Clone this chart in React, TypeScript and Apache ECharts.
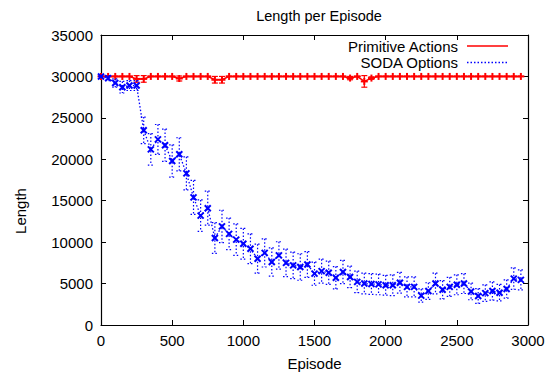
import React, { useEffect, useRef } from "react";
import * as echarts from "echarts";

const episodes = [
  0, 50, 100, 150, 200, 250, 300, 350, 400, 450,
  500, 550, 600, 650, 700, 750, 800, 850, 900, 950,
  1000, 1050, 1100, 1150, 1200, 1250, 1300, 1350, 1400, 1450,
  1500, 1550, 1600, 1650, 1700, 1750, 1800, 1850, 1900, 1950,
  2000, 2050, 2100, 2150, 2200, 2250, 2300, 2350, 2400, 2450,
  2500, 2550, 2600, 2650, 2700, 2750, 2800, 2850, 2900, 2950,
];

const primitiveMean = [
  30000, 30000, 30000, 30000, 30000, 29700, 29700, 30000, 30000, 30000,
  30000, 29750, 30000, 30000, 30000, 30000, 29600, 29600, 30000, 30000,
  30000, 30000, 30000, 30000, 30000, 30000, 30000, 30000, 30000, 30000,
  30000, 30000, 30000, 30000, 30000, 29800, 30000, 29400, 29800, 30000,
  30000, 30000, 30000, 30000, 30000, 30000, 30000, 30000, 30000, 30000,
  30000, 30000, 30000, 30000, 30000, 30000, 30000, 30000, 30000, 30000,
];

const primitiveErr = [
  0, 0, 0, 0, 0, 400, 400, 0, 0, 0,
  0, 300, 0, 0, 0, 0, 400, 400, 0, 0,
  0, 0, 0, 0, 0, 0, 0, 0, 0, 0,
  0, 0, 0, 0, 0, 200, 0, 700, 150, 0,
  0, 0, 0, 0, 0, 0, 0, 0, 0, 0,
  0, 0, 0, 0, 0, 0, 0, 0, 0, 0,
];

const sodaMean = [
  30000, 29800, 29200, 28700, 28900, 28900, 23500, 21200, 22400, 21700,
  19800, 20600, 18300, 15400, 13200, 14100, 10500, 11900, 11000, 10300,
  9800, 9200, 8000, 8700, 7600, 8400, 7500, 7200, 7000, 7300,
  6200, 6500, 6300, 5700, 6400, 5800, 5200, 5000, 4950, 4900,
  4800, 4800, 5100, 4600, 4600, 3550, 4100, 5000, 4250, 4600,
  4850, 5000, 4050, 3500, 3850, 4100, 3900, 4350, 5600, 5450,
];

const sodaErr = [
  0, 300, 500, 700, 600, 600, 1600, 1900, 1800, 1950,
  1950, 2000, 2000, 2050, 1900, 2050, 1850, 1950, 1900, 1900,
  1850, 1800, 1750, 1700, 1700, 1650, 1650, 1600, 1600, 1550,
  1400, 1450, 1400, 1350, 1400, 1300, 1300, 1250, 1250, 1250,
  1200, 1250, 1250, 1200, 1200, 800, 1000, 1250, 1100, 1150,
  1200, 1200, 1000, 900, 1000, 1100, 1000, 1100, 1300, 1200,
];

const seriesNames = ["Primitive Actions", "SODA Options"];
const xMin = 0, xMax = 3000, xStep = 500;
const yMin = 0, yMax = 35000, yStep = 5000;

const FONT = "'Liberation Sans', Arial, Helvetica, sans-serif";
const RED = "#ff0000";
const BLUE = "#0000ff";

function errorSeries(name: string, mean: number[], err: number[], color: string, dotted: boolean, marker: "plus" | "cross") {
  const data = episodes.map((e, i) => [e, mean[i], err[i]]);
  return {
    type: "custom",
    name,
    data,
    encode: { x: 0, y: 1 },
    z: dotted ? 4 : 3,
    renderItem: (_params: any, api: any) => {
      const x = api.value(0);
      const y = api.value(1);
      const e = api.value(2);
      const c = api.coord([x, y]);
      const hi = api.coord([x, y + e]);
      const lo = api.coord([x, y - e]);
      const cap = 3;
      const barStyle: any = { stroke: color, lineWidth: 1.2, fill: null };
      if (dotted) barStyle.lineDash = [1.5, 2];
      const mStyle = { stroke: color, lineWidth: 2, fill: null };
      const children: any[] = [];
      if (e > 0) {
        children.push({ type: "line", shape: { x1: c[0], y1: hi[1], x2: c[0], y2: lo[1] }, style: barStyle });
      }
      children.push({ type: "line", shape: { x1: c[0] - cap, y1: hi[1], x2: c[0] + cap, y2: hi[1] }, style: barStyle });
      children.push({ type: "line", shape: { x1: c[0] - cap, y1: lo[1], x2: c[0] + cap, y2: lo[1] }, style: barStyle });
      if (marker === "plus") {
        const s = 3.5;
        children.push({ type: "line", shape: { x1: c[0] - s, y1: c[1], x2: c[0] + s, y2: c[1] }, style: mStyle });
        children.push({ type: "line", shape: { x1: c[0], y1: c[1] - s, x2: c[0], y2: c[1] + s }, style: mStyle });
      } else {
        const s = 3;
        children.push({ type: "line", shape: { x1: c[0] - s, y1: c[1] - s, x2: c[0] + s, y2: c[1] + s }, style: mStyle });
        children.push({ type: "line", shape: { x1: c[0] - s, y1: c[1] + s, x2: c[0] + s, y2: c[1] - s }, style: mStyle });
      }
      return { type: "group", children };
    },
  };
}

export default function App() {
  const ref = useRef<HTMLDivElement>(null);
  useEffect(() => {
    if (!ref.current) return;
    const chart = echarts.init(ref.current, null, { renderer: "svg" });
    const tickCommon = { show: true, inside: true, length: 5, lineStyle: { color: "#000", width: 1 } };
    const lineCommon = { show: true, onZero: false, lineStyle: { color: "#000", width: 1.2 } };
    const labelCommon = { color: "#000", fontSize: 15, fontFamily: FONT, formatter: (v: number) => String(v) };
    chart.setOption({
      animation: false,
      backgroundColor: "#fff",
      title: {
        text: "Length per Episode",
        left: 314,
        top: 3,
        textAlign: "center",
        textStyle: { fontSize: 14.5, fontWeight: "normal", color: "#000", fontFamily: FONT },
      },
      grid: { left: 101, right: 27, top: 35, bottom: 49, containLabel: false },
      xAxis: [
        {
          type: "value", min: xMin, max: xMax, interval: xStep, position: "bottom",
          axisLine: lineCommon, axisTick: tickCommon, splitLine: { show: false },
          axisLabel: { ...labelCommon, margin: 8 },
          name: "Episode", nameLocation: "middle", nameGap: 31,
          nameTextStyle: { color: "#000", fontSize: 15, fontFamily: FONT },
        },
        {
          type: "value", min: xMin, max: xMax, interval: xStep, position: "top",
          axisLine: lineCommon, axisTick: tickCommon, splitLine: { show: false },
          axisLabel: { show: false },
        },
      ],
      yAxis: [
        {
          type: "value", min: yMin, max: yMax, interval: yStep, position: "left",
          axisLine: lineCommon, axisTick: tickCommon, splitLine: { show: false },
          axisLabel: { ...labelCommon, margin: 8 },
        },
        {
          type: "value", min: yMin, max: yMax, interval: yStep, position: "right",
          axisLine: lineCommon, axisTick: tickCommon, splitLine: { show: false },
          axisLabel: { show: false },
        },
      ],
      series: [
        {
          type: "line", name: seriesNames[0], data: episodes.map((e, i) => [e, primitiveMean[i]]),
          symbol: "none", lineStyle: { color: RED, width: 1.5 }, z: 3,
        },
        errorSeries(seriesNames[0], primitiveMean, primitiveErr, RED, false, "plus"),
        {
          type: "line", name: seriesNames[1], data: episodes.map((e, i) => [e, sodaMean[i]]),
          symbol: "none", lineStyle: { color: BLUE, width: 1.3, type: [1.5, 2] }, z: 4,
        },
        errorSeries(seriesNames[1], sodaMean, sodaErr, BLUE, true, "cross"),
      ],
      graphic: [
        { type: "text", x: 20, y: 211, rotation: Math.PI / 2, style: { text: "Length", fill: "#000", font: `15px ${FONT}`, textAlign: "center", textVerticalAlign: "middle" } },
        { type: "text", x: 458, y: 46, style: { text: seriesNames[0], fill: "#000", font: `15px ${FONT}`, textAlign: "right", textVerticalAlign: "middle" } },
        { type: "line", shape: { x1: 467, y1: 46, x2: 508, y2: 46 }, style: { stroke: RED, lineWidth: 1.5 } },
        { type: "text", x: 458, y: 62, style: { text: seriesNames[1], fill: "#000", font: `15px ${FONT}`, textAlign: "right", textVerticalAlign: "middle" } },
        { type: "line", shape: { x1: 467, y1: 62.5, x2: 508, y2: 62.5 }, style: { stroke: BLUE, lineWidth: 1.3, lineDash: [1.5, 2] } },
      ],
    });
    return () => chart.dispose();
  }, []);
  return <div ref={ref} style={{ width: 555, height: 376, position: "absolute", left: 0, top: 0 }} />;
}
